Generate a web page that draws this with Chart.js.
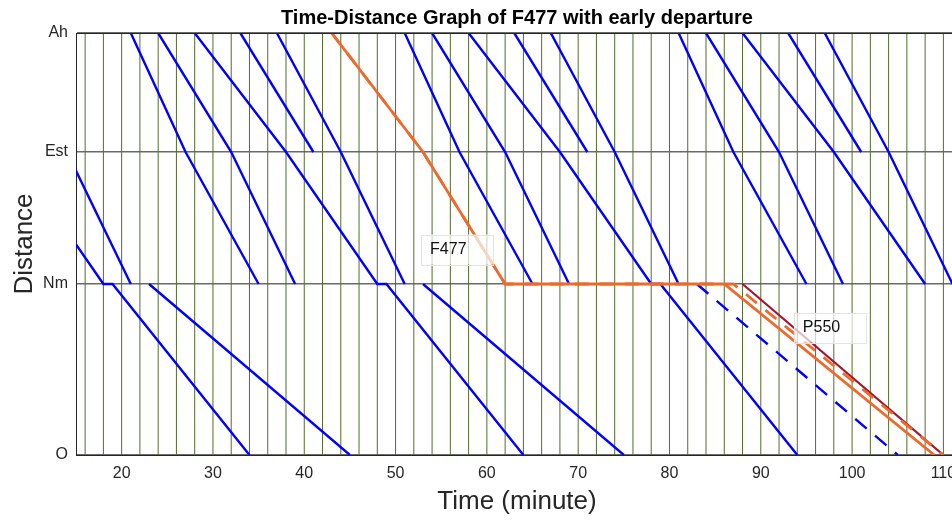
<!DOCTYPE html>
<html>
<head>
<meta charset="utf-8">
<script src="https://cdn.jsdelivr.net/npm/chart.js@4.4.1/dist/chart.umd.min.js"></script>
<style>
  html, body { margin: 0; padding: 0; background: #fff; overflow: hidden; }
  #wrap { width: 975px; height: 521px; }
</style>
</head>
<body>
<div id="wrap"><canvas id="myChart"></canvas></div>
<script>
// stations along the line (km from O)
const stationNames = ['O', 'Nm', 'Est', 'Ah'];
const stationKm = [0, 17.1, 30.3, 42.2];
const xTicks = [20, 30, 40, 50, 60, 70, 80, 90, 100, 110];

// 2 minute slot lines
const slotMinutes = [16, 18, 20, 22, 24, 26, 28, 30, 32, 34, 36, 38, 40, 42, 44, 46, 48, 50,
  52, 54, 56, 58, 60, 62, 64, 66, 68, 70, 72, 74, 76, 78, 80, 82, 84, 86, 88, 90,
  92, 94, 96, 98, 100, 102, 104, 106, 108, 110];

// regular services (minutes at each stop)
const stopsA = ['Ah', 'Est', 'Nm'];
const runsA = [[21, 27, 35], [51, 57, 65], [81, 87, 95]];
const stopsB = ['Ah', 'Est', 'Nm'];
const runsB = [[24, 32, 39], [54, 62, 69], [84, 92, 99]];
const stopsC = ['Ah', 'Est', 'Nm', 'Nm', 'O'];
const runsC = [[-2, 8, 18, 19, 34], [28, 38, 48, 49, 64], [58, 68, 78, 79, 94], [88, 98, 108]];
const stopsD = ['Ah', 'Est'];
const runsD = [[33, 41], [63, 71], [93, 101]];
const stopsE = ['Ah', 'Est', 'Nm'];
const runsE = [[7, 14, 21], [37, 44, 51], [67, 74, 81], [97, 104, 111]];
const stopsF = ['Nm', 'O'];
const runsF = [[23, 45], [53, 75]];
const movedRun = [83, 105];

// F477 and P550
const f477Stops = ['Ah', 'Est', 'Nm', 'Nm', 'O'];
const f477Actual = [43, 53, 62, 86, 109];
const f477Plan = [43, 53, 62, 87, 110];
const p550Stops = ['Nm', 'O'];
const p550Run = [88, 110];

// text boxes
const noteText = ['F477', 'P550'];
const noteMinute = [53.78, 94.61];
const noteKm = [20.55, 12.72];

const FONT = 'Liberation Sans, Arial, sans-serif';
Chart.defaults.font.family = FONT;

function track(stops, times) {
  return times.map((t, k) => ({x: t, y: stationKm[stationNames.indexOf(stops[k])]}));
}

function run(stops, times, color, width, dash, order) {
  return {
    data: track(stops, times),
    borderColor: color,
    backgroundColor: color,
    borderWidth: width,
    borderDash: dash,
    pointRadius: 0,
    tension: 0,
    order: order
  };
}

const slotPts = [];
slotMinutes.forEach(m => {
  slotPts.push({x: m, y: stationKm[0]}, {x: m, y: stationKm[3]}, {x: m, y: null});
});

const datasets = [];
datasets.push({data: slotPts, borderColor: 'rgb(85,107,47)', borderWidth: 1, pointRadius: 0, order: 10});
[[stopsA, runsA], [stopsB, runsB], [stopsC, runsC], [stopsD, runsD], [stopsE, runsE], [stopsF, runsF]].forEach(([s, rs]) => {
  rs.forEach(r => datasets.push(run(s, r, '#0000ff', 2.4, [], 5)));
});
datasets.push(run(stopsF, movedRun, '#0000ff', 2.4, [15, 11], 5));
datasets.push(run(p550Stops, p550Run, 'rgb(162,20,47)', 2.2, [], 3));
datasets.push(run(f477Stops, f477Plan, 'rgb(238,106,44)', 2.8, [14, 11], 2));
datasets.push(run(f477Stops, f477Actual, 'rgb(238,106,44)', 2.8, [], 1));

const frameAndNotes = {
  id: 'frameAndNotes',
  afterDatasetsDraw(chart) {
    const {ctx, chartArea: a, scales: {x, y}} = chart;
    ctx.save();
    noteText.forEach((txt, k) => {
      const px = x.getPixelForValue(noteMinute[k]);
      const py = y.getPixelForValue(noteKm[k]);
      ctx.fillStyle = 'rgba(255,255,255,0.7)';
      ctx.fillRect(px - 9, py - 15, 72, 30);
      ctx.strokeStyle = '#e4e4e4';
      ctx.lineWidth = 1;
      ctx.strokeRect(Math.round(px - 9) + 0.5, Math.round(py - 15) + 0.5, 72, 30);
      ctx.fillStyle = '#111';
      ctx.font = '16px ' + FONT;
      ctx.textBaseline = 'middle';
      ctx.textAlign = 'left';
      ctx.fillText(txt, px, py);
    });
    // box top edge
    ctx.strokeStyle = '#262626';
    ctx.lineWidth = 1;
    ctx.beginPath();
    ctx.moveTo(a.left, Math.round(a.top) + 0.5);
    ctx.lineTo(a.right, Math.round(a.top) + 0.5);
    ctx.stroke();
    ctx.restore();
  }
};

new Chart(document.getElementById('myChart'), {
  type: 'line',
  data: {datasets: datasets},
  plugins: [frameAndNotes],
  options: {
    responsive: true,
    maintainAspectRatio: false,
    animation: false,
    layout: {padding: {left: 0, right: 17, top: 0, bottom: 0}},
    plugins: {
      legend: {display: false},
      tooltip: {enabled: false},
      title: {
        display: true,
        text: 'Time-Distance Graph of F477 with early departure',
        color: '#000',
        font: {size: 20, weight: 'bold'},
        padding: {top: 6, bottom: 3},
        fullSize: false
      }
    },
    scales: {
      x: {
        type: 'linear',
        min: 15,
        max: 111.6,
        afterBuildTicks: s => { s.ticks = xTicks.map(v => ({value: v})); },
        afterFit: s => { s.height = 66; },
        grid: {display: false, drawTicks: false},
        border: {display: true, color: '#262626', width: 1},
        ticks: {
          color: '#262626',
          font: {size: 16},
          padding: 9,
          maxRotation: 0,
          autoSkip: false,
          callback: v => String(v)
        },
        title: {
          display: true,
          text: 'Time (minute)',
          color: '#262626',
          font: {size: 26},
          padding: {top: 0, bottom: 4}
        }
      },
      y: {
        type: 'linear',
        min: 0,
        max: 42.2,
        afterBuildTicks: s => { s.ticks = stationKm.map(v => ({value: v})); },
        afterFit: s => { s.width = 76; },
        grid: {color: '#6b6b6b', lineWidth: 1.5, drawTicks: false},
        border: {display: true, color: '#262626', width: 1},
        ticks: {
          color: '#262626',
          font: {size: 16},
          padding: 8,
          callback: (v, i) => stationNames[i]
        },
        title: {
          display: true,
          text: 'Distance',
          color: '#262626',
          font: {size: 26},
          padding: {top: 9, bottom: 0}
        }
      }
    }
  }
});
</script>
</body>
</html>
